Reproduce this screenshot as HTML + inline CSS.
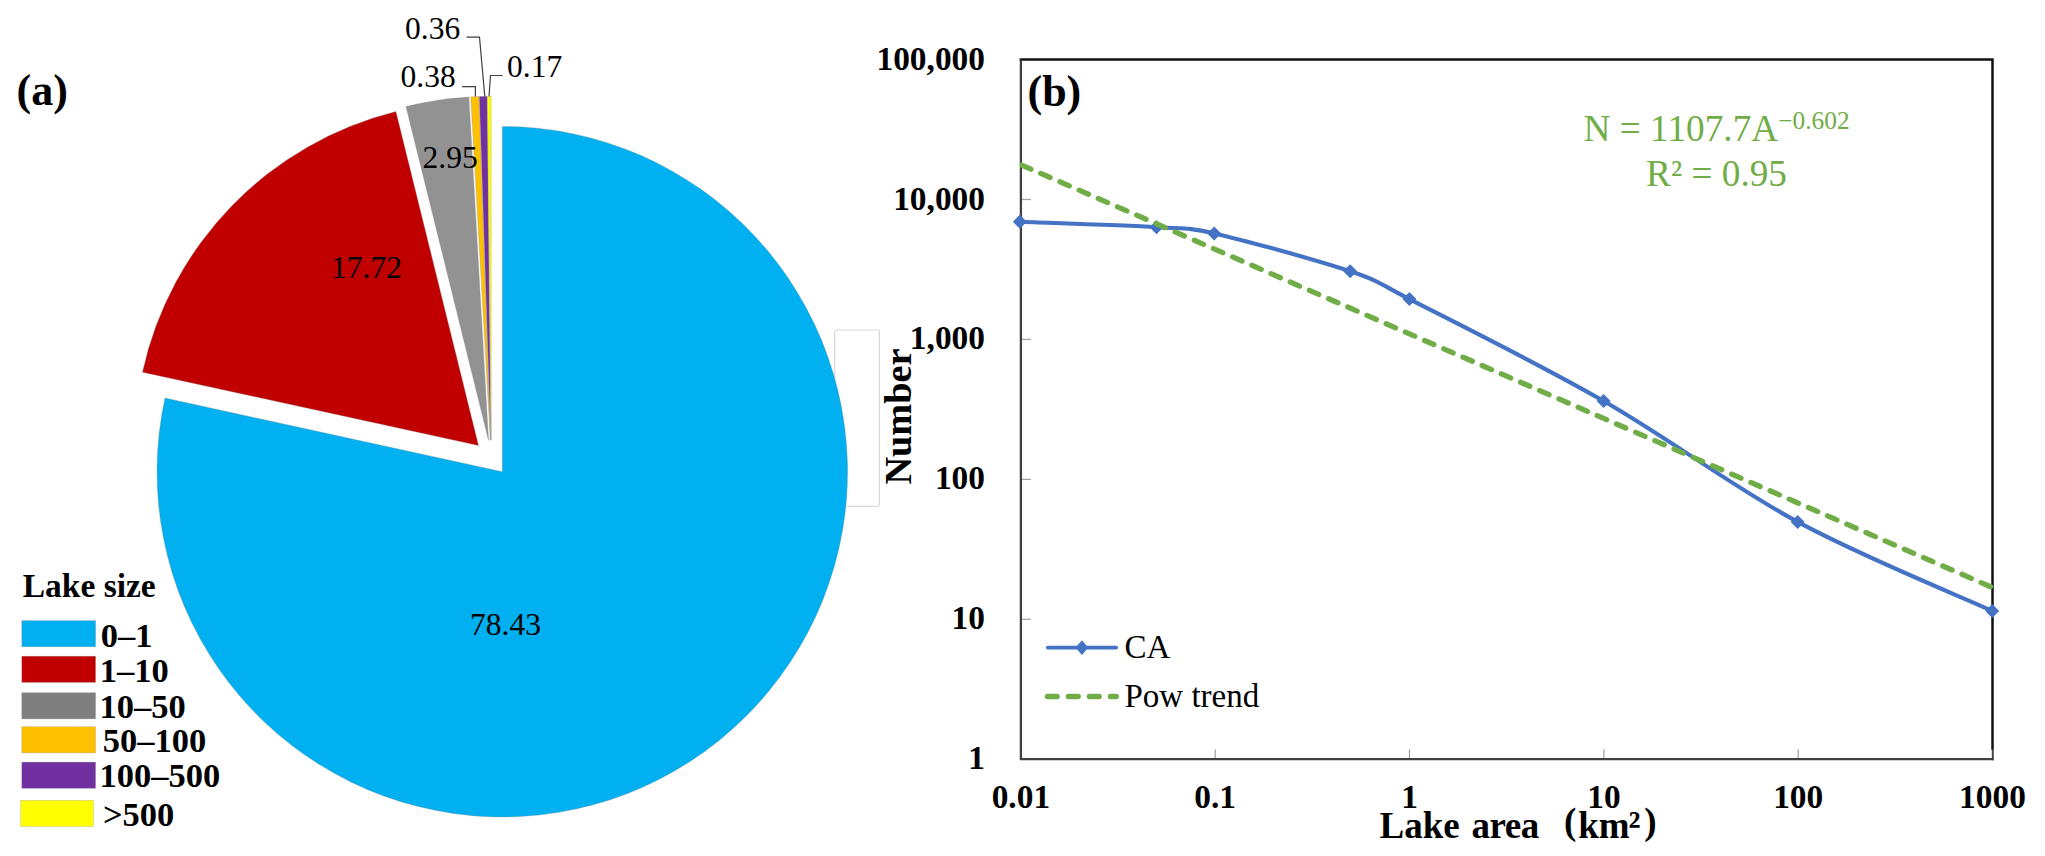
<!DOCTYPE html>
<html lang="en">
<head>
<meta charset="utf-8">
<title>Lake size distribution</title>
<style>
html,body{margin:0;padding:0;background:#fff;}
body{width:2045px;height:856px;overflow:hidden;font-family:"Liberation Serif",serif;}
svg{display:block;}
</style>
</head>
<body>
<svg width="2045" height="856" viewBox="0 0 2045 856">
<rect x="0" y="0" width="2045" height="856" fill="#ffffff"/>
<rect x="834.7" y="330" width="44.7" height="176.3" rx="1.2" fill="#fff" stroke="#d9d9d9" stroke-width="1.2"/>
<path d="M502.30,471.69 L502.30,126.39 A345.3,345.3 0 1 1 164.95,398.01 Z" fill="#00b0f0" stroke="#8a8a8a" stroke-opacity="0.55" stroke-width="0.6"/>
<path d="M478.51,445.56 L142.44,372.16 A344.0,344.0 0 0 1 395.91,111.62 Z" fill="#c00000" stroke="#8a8a8a" stroke-opacity="0.55" stroke-width="0.6"/>
<path d="M488.56,440.40 L405.95,106.46 A344.0,344.0 0 0 1 468.90,96.96 Z" fill="#929292" stroke="#8a8a8a" stroke-opacity="0.55" stroke-width="0.6"/>
<path d="M490.40,440.22 L470.74,96.78 A344.0,344.0 0 0 1 478.95,96.41 Z" fill="#ffc000" stroke="#8a8a8a" stroke-opacity="0.55" stroke-width="0.6"/>
<path d="M490.81,440.20 L479.36,96.39 A344.0,344.0 0 0 1 487.14,96.22 Z" fill="#7030a0" stroke="#8a8a8a" stroke-opacity="0.55" stroke-width="0.6"/>
<path d="M491.11,440.20 L487.43,96.22 A344.0,344.0 0 0 1 491.11,96.20 Z" fill="#ffff00" stroke="#8a8a8a" stroke-opacity="0.55" stroke-width="0.6"/>
<g fill="none" stroke="#404040" stroke-width="1.2">
<polyline points="466.6,37.2 479.5,37.2 484.8,96.4"/>
<polyline points="462,86.6 475.4,86.6 475.4,96.4"/>
<polyline points="502.7,75.5 490.5,75.5 489,96.4"/>
</g>
<g font-family="'Liberation Serif', serif" font-size="31.5" fill="#000">
<text x="405" y="38.7">0.36</text>
<text x="400.5" y="87.3">0.38</text>
<text x="507" y="76.7">0.17</text>
<text x="422.5" y="168.4">2.95</text>
<text x="331" y="277.7">17.72</text>
<text x="470" y="634.8">78.43</text>
</g>
<text x="16.5" y="104.7" font-family="'Liberation Serif', serif" font-weight="bold" font-size="44" fill="#000">(a)</text>
<g font-family="'Liberation Serif', serif" font-weight="bold" font-size="34.5" fill="#000">
<text x="22.7" y="596.8" font-size="33.5">Lake size</text>
<rect x="21.8" y="620.6" width="73.8" height="26.2" fill="#00b0f0" stroke="#9a9a9a" stroke-opacity="0.5" stroke-width="0.6"/>
<text x="100.8" y="646.8">0–1</text>
<rect x="21.8" y="656.2" width="73.8" height="26.2" fill="#c00000" stroke="#9a9a9a" stroke-opacity="0.5" stroke-width="0.6"/>
<text x="99.7" y="681.6">1–10</text>
<rect x="21.8" y="692.7" width="73.8" height="26.2" fill="#7f7f7f" stroke="#9a9a9a" stroke-opacity="0.5" stroke-width="0.6"/>
<text x="99.6" y="717.6">10–50</text>
<rect x="21.8" y="726.7" width="73.8" height="26.2" fill="#ffc000" stroke="#9a9a9a" stroke-opacity="0.5" stroke-width="0.6"/>
<text x="102.8" y="752.2">50–100</text>
<rect x="21.8" y="762.1" width="73.8" height="26.2" fill="#7030a0" stroke="#9a9a9a" stroke-opacity="0.5" stroke-width="0.6"/>
<text x="99.6" y="787.4">100–500</text>
<rect x="20.7" y="800.3" width="72.7" height="26.2" fill="#ffff00" stroke="#9a9a9a" stroke-opacity="0.5" stroke-width="0.6"/>
<text x="102.9" y="825.8">&gt;500</text>
</g>
<g stroke="#a0a0a0" stroke-width="1.2">
<line x1="1020.9" y1="619.3" x2="1030.9" y2="619.3"/>
<line x1="1020.9" y1="479.4" x2="1030.9" y2="479.4"/>
<line x1="1020.9" y1="339.4" x2="1030.9" y2="339.4"/>
<line x1="1020.9" y1="199.5" x2="1030.9" y2="199.5"/>
<line x1="1215.2" y1="759.2" x2="1215.2" y2="749.2"/>
<line x1="1409.5" y1="759.2" x2="1409.5" y2="749.2"/>
<line x1="1603.9" y1="759.2" x2="1603.9" y2="749.2"/>
<line x1="1798.2" y1="759.2" x2="1798.2" y2="749.2"/>
<line x1="1992.5" y1="759.2" x2="1992.5" y2="749.2"/>
</g>
<path d="M1019.6,59.6 L1992.5,59.6 L1992.5,749.7" fill="none" stroke="#111" stroke-width="2.5"/>
<path d="M1020.9,59.6 L1020.9,759.2 L1993.5,759.2" fill="none" stroke="#404040" stroke-width="2.3"/>
<line x1="1992.8" y1="749.2" x2="1992.8" y2="760.3000000000001" stroke="#404040" stroke-width="1.9"/>
<path d="M1019.8,221.8 C1042.6,222.7 1124.1,225.3 1156.5,227.2 C1185.5,228.9 1185.9,227.0 1214.2,233.4 C1246.5,240.8 1317.7,260.4 1350.2,271.3 C1381.2,281.7 1380.3,284.2 1409.4,299.1 C1451.6,320.7 1538.9,363.9 1603.6,401.0 C1668.3,438.1 1732.9,486.9 1797.7,521.9 C1862.5,556.9 1959.8,596.1 1992.2,610.9" fill="none" stroke="#4472c4" stroke-width="4.1" stroke-linecap="round" stroke-linejoin="round"/>
<path d="M1012.8,221.8 L1019.8,214.8 L1026.8,221.8 L1019.8,228.8 Z" fill="#4472c4"/>
<path d="M1149.5,227.2 L1156.5,220.2 L1163.5,227.2 L1156.5,234.2 Z" fill="#4472c4"/>
<path d="M1207.2,233.4 L1214.2,226.4 L1221.2,233.4 L1214.2,240.4 Z" fill="#4472c4"/>
<path d="M1343.2,271.3 L1350.2,264.3 L1357.2,271.3 L1350.2,278.3 Z" fill="#4472c4"/>
<path d="M1402.4,299.1 L1409.4,292.1 L1416.4,299.1 L1409.4,306.1 Z" fill="#4472c4"/>
<path d="M1596.6,401.0 L1603.6,394.0 L1610.6,401.0 L1603.6,408.0 Z" fill="#4472c4"/>
<path d="M1790.7,521.9 L1797.7,514.9 L1804.7,521.9 L1797.7,528.9 Z" fill="#4472c4"/>
<path d="M1985.2,610.9 L1992.2,603.9 L1999.2,610.9 L1992.2,617.9 Z" fill="#4472c4"/>
<clipPath id="pc"><rect x="1019.8" y="59.6" width="973.9" height="699.6"/></clipPath>
<line x1="1020.9" y1="164.8" x2="1992.5" y2="587.6" stroke="#70ad47" stroke-width="5.3" stroke-dasharray="10.2 10.73" stroke-dashoffset="-0.7" stroke-linecap="round" clip-path="url(#pc)"/>
<g font-family="'Liberation Serif', serif" font-weight="bold" font-size="33.4" fill="#000">
<text x="985" y="769.2" text-anchor="end">1</text>
<text x="985" y="629.3" text-anchor="end">10</text>
<text x="985" y="489.4" text-anchor="end">100</text>
<text x="985" y="349.4" text-anchor="end">1,000</text>
<text x="985" y="209.5" text-anchor="end">10,000</text>
<text x="985" y="69.6" text-anchor="end">100,000</text>
<text x="1020.9" y="807.8" text-anchor="middle">0.01</text>
<text x="1215.2" y="807.8" text-anchor="middle">0.1</text>
<text x="1409.5" y="807.8" text-anchor="middle">1</text>
<text x="1603.9" y="807.8" text-anchor="middle">10</text>
<text x="1798.2" y="807.8" text-anchor="middle">100</text>
<text x="1992.5" y="807.8" text-anchor="middle">1000</text>
</g>
<text transform="translate(911.4,484.6) rotate(-90)" font-family="'Liberation Serif', serif" font-weight="bold" font-size="38.3" fill="#000">Number</text>
<g font-family="'Liberation Serif', 'Noto Serif CJK SC', serif" font-weight="bold" font-size="37" fill="#000">
<text x="1379.6" y="837.9">Lake</text>
<text x="1471.4" y="837.9" letter-spacing="-0.45">area</text>
<text x="1564" y="833.6">(</text>
<text x="1578.3" y="837.9">km<tspan x="1628.6" y="837.6" font-size="40">²</tspan></text>
<text x="1644.3" y="833.6">)</text>
</g>
<text x="1027.5" y="105.8" font-family="'Liberation Serif', serif" font-weight="bold" font-size="44" fill="#000">(b)</text>
<g font-family="'Liberation Serif', serif" fill="#70ad47">
<text x="1583.5" y="141.3" font-size="37.3">N = 1107.7A<tspan font-size="25.4" dy="-12.2">−0.602</tspan></text>
<text x="1646" y="185.5" font-size="37.3">R² = 0.95</text>
</g>
<line x1="1047.8" y1="647.6" x2="1116.2" y2="647.6" stroke="#4472c4" stroke-width="3.7" stroke-linecap="round"/>
<path d="M1075.5,647.6 L1081.9,640.3 L1088.3,647.6 L1081.9,654.9 Z" fill="#4472c4"/>
<line x1="1047.5" y1="696.5" x2="1116.2" y2="696.5" stroke="#70ad47" stroke-width="5.5" stroke-dasharray="9.6 11.4" stroke-linecap="round"/>
<g font-family="'Liberation Serif', serif" font-size="33" fill="#000">
<text x="1124.5" y="657.7">CA</text>
<text x="1124.5" y="707">Pow trend</text>
</g>
</svg>
</body>
</html>
